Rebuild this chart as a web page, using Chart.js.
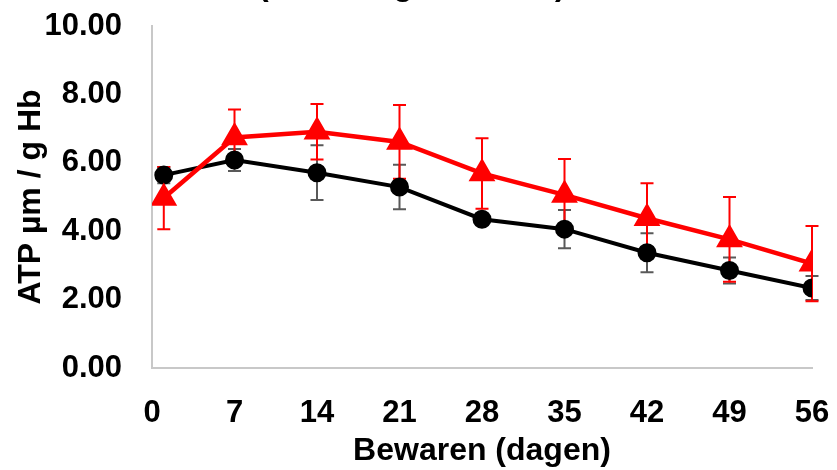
<!DOCTYPE html>
<html>
<head>
<meta charset="utf-8">
<script src="https://cdn.jsdelivr.net/npm/chart.js@4.4.1/dist/chart.umd.min.js"></script>
<style>
  html, body { margin: 0; padding: 0; background: #fff; }
  #wrap { position: relative; width: 837px; height: 470px; overflow: hidden; }
  #title {
    position: absolute; left: 258px; top: -32px; white-space: nowrap;
    font: bold 32px "Liberation Sans", Arial, sans-serif; line-height: 1; color: #000;
  }
  canvas { position: absolute; left: 0; top: 0; }
</style>
</head>
<body>
<div id="wrap">
  <canvas id="chart" width="837" height="470"></canvas>
  <div id="title">(Bewaring in SAGM)</div>
</div>
<script>
const days = [1, 7, 14, 21, 28, 35, 42, 49, 56];
const xTicks = [0, 7, 14, 21, 28, 35, 42, 49, 56];
const yTicks = [0, 2, 4, 6, 8, 10];

const blackValues = [5.64, 6.08, 5.71, 5.29, 4.35, 4.06, 3.37, 2.85, 2.34];
const blackErrors = [0.24, 0.32, 0.80, 0.65, 0.08, 0.56, 0.57, 0.38, 0.35];

const redValues = [4.97, 6.74, 6.91, 6.61, 5.69, 5.06, 4.38, 3.76, 3.05];
const redErrors = [0.91, 0.82, 0.81, 1.08, 1.03, 1.05, 1.02, 1.24, 1.10];

const tickFont = { family: "'Liberation Sans', Arial, sans-serif", size: 31, weight: 'bold' };
const titleFont = { family: "'Liberation Sans', Arial, sans-serif", size: 32, weight: 'bold' };

// whiskers with caps, drawn under the lines and markers
const errorBars = {
  id: 'errorBars',
  beforeDatasetsDraw(chart) {
    const { ctx, scales: { x, y } } = chart;
    const sets = chart.data.datasets.slice().sort((a, b) => b.order - a.order);
    sets.forEach(ds => {
      ctx.save();
      ctx.strokeStyle = ds.errColor;
      ctx.lineWidth = 2;
      ds.data.forEach((p, i) => {
        const px = x.getPixelForValue(p.x);
        const top = y.getPixelForValue(p.y + ds.errors[i]);
        const bot = y.getPixelForValue(p.y - ds.errors[i]);
        ctx.beginPath();
        ctx.moveTo(px, top); ctx.lineTo(px, bot);
        ctx.moveTo(px - 6.5, top); ctx.lineTo(px + 6.5, top);
        ctx.moveTo(px - 6.5, bot); ctx.lineTo(px + 6.5, bot);
        ctx.stroke();
      });
      ctx.restore();
    });
  }
};

new Chart(document.getElementById('chart'), {
  type: 'line',
  data: {
    datasets: [
      {
        label: 'zwart',
        data: days.map((d, i) => ({ x: d, y: blackValues[i] })),
        errors: blackErrors,
        errColor: '#595959',
        borderColor: '#000000',
        backgroundColor: '#000000',
        borderWidth: 4,
        pointStyle: 'circle',
        pointRadius: 7.5,
        order: 2
      },
      {
        label: 'rood',
        data: days.map((d, i) => ({ x: d, y: redValues[i] })),
        errors: redErrors,
        errColor: '#FF0000',
        borderColor: '#FF0000',
        backgroundColor: '#FF0000',
        borderWidth: 4.5,
        pointStyle: 'triangle',
        pointRadius: 11,
        order: 1
      }
    ]
  },
  options: {
    responsive: false,
    animation: false,
    layout: { padding: { top: 26, right: 25, left: 0, bottom: 0 } },
    plugins: { legend: { display: false }, tooltip: { enabled: false } },
    scales: {
      x: {
        type: 'linear',
        min: 0,
        max: 56,
        afterBuildTicks: s => { s.ticks = xTicks.map(v => ({ value: v })); },
        afterFit: s => { s.height = 102; s.paddingLeft = 0; s.paddingRight = 0; },
        grid: { display: false, drawTicks: false },
        border: { display: true, color: '#C8C8C8', width: 2 },
        ticks: { color: '#000', font: tickFont, padding: 27, maxRotation: 0, autoSkip: false },
        title: { display: true, text: 'Bewaren (dagen)', color: '#000', font: titleFont, padding: 0 }
      },
      y: {
        min: 0,
        max: 10,
        afterBuildTicks: s => { s.ticks = yTicks.map(v => ({ value: v })); },
        afterFit: s => { s.width = 152; s.paddingTop = 0; s.paddingBottom = 0; },
        grid: { display: false, drawTicks: false },
        border: { display: true, color: '#C8C8C8', width: 2 },
        ticks: { color: '#000', font: tickFont, padding: 30, callback: v => v.toFixed(2) },
        title: { display: true, text: 'ATP µm / g Hb', color: '#000', font: titleFont, padding: { top: 12, bottom: 0 } }
      }
    }
  },
  plugins: [errorBars]
});
</script>
</body>
</html>
